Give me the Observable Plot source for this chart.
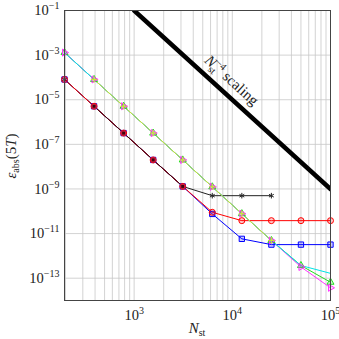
<!DOCTYPE html>
<html><head><meta charset="utf-8">
<script src="https://cdn.jsdelivr.net/npm/d3@7"></script>
<script src="https://cdn.jsdelivr.net/npm/@observablehq/plot@0.6"></script>
<style>body{margin:0;background:#fff}#c{width:339px;height:339px}</style>
</head><body><div id="c"></div>
<script>
// ---- data ----
const Nst = [195.3125, 390.625, 781.25, 1562.5, 3125, 6250, 12500, 25000, 50000, 100000];
const cyanErr    = [1.3e-3, 8.1e-5, 5.1e-6, 3.2e-7, 2.0e-8, 1.25e-9, 7.8e-11, 4.9e-12, 3.7e-13, 1.65e-13];
const greenErr   = [1.3e-3, 8.1e-5, 5.1e-6, 3.2e-7, 2.0e-8, 1.25e-9, 7.8e-11, 4.9e-12, 3.7e-13, 6.6e-14];
const magentaErr = [1.3e-3, 8.1e-5, 5.1e-6, 3.2e-7, 2.0e-8, 1.25e-9, 7.8e-11, 4.9e-12, 3.2e-13, 3.7e-14];
const yellowErr  = [null, 8.1e-5, 5.1e-6, 3.2e-7, 2.0e-8, 1.25e-9, 7.8e-11, 4.9e-12, null, null];
const redErr     = [8.1e-5, 5.1e-6, 3.2e-7, 2.0e-8, 1.3e-9, 9.0e-11, 3.8e-11, 3.8e-11, 3.8e-11, 3.8e-11];
const blueErr    = [8.1e-5, 5.1e-6, 3.2e-7, 2.0e-8, 1.3e-9, 7.6e-11, 5.8e-12, 3.2e-12, 3.2e-12, 3.2e-12];
const blackErr   = [8.1e-5, 5.1e-6, 3.2e-7, 2.0e-8, 1.3e-9, 5.0e-10, 5.0e-10, 5.0e-10, null, null];
const maroonErr  = [null, 5.1e-6, 3.2e-7, 2.0e-8, 1.3e-9, null, null, null, null, null];
const scalingN   = [1000, 100000];
const scalingErr = [0.1, 1e-9];
const xTicks = [1e3, 1e4, 1e5];
const yTicks = [1e-1, 1e-3, 1e-5, 1e-7, 1e-9, 1e-11, 1e-13];
const xGrid = [200,300,400,500,600,700,800,900,1000,2000,3000,4000,5000,6000,7000,8000,9000,10000,20000,30000,40000,50000,60000,70000,80000,90000,100000];

const series = [
  {name:"blue", values: blueErr, color:"#0000ff", symbol:"square", rotate:0, r:3},
  {name:"black", values: blackErr, color:"#222222", symbol:"asterisk", rotate:0, r:2.6},
  {name:"red", values: redErr, color:"#ff0000", symbol:"circle", rotate:0, r:3},
  {name:"maroon", values: maroonErr, color:"#3a0510", symbol:"square", rotate:0, r:2.2},
  {name:"green", values: greenErr, color:"#22dd22", symbol:"triangle", rotate:0, r:2.6},
  {name:"magenta", values: magentaErr, color:"#ff33ff", symbol:"triangle", rotate:90, r:2.6},
  {name:"cyan", values: cyanErr, color:"#00e5e5", symbol:"circle", rotate:0, r:0},
  {name:"yellow", values: yellowErr, color:"#c8e632", symbol:"plus", rotate:0, r:2.2}
];
const rows = series.flatMap(s => Nst.map((n,i) => ({s:s.name, n, e:s.values[i]}))
  .filter(d => d.e != null));
const scaling = scalingN.map((n,i) => ({n, e: scalingErr[i]}));
const fmt = v => "10^" + Math.round(Math.log10(v));

const lineMarks = series.map(s => Plot.line(rows.filter(d => d.s === s.name), {x:"n", y:"e", stroke:s.color, strokeWidth: 1}));
const dotMarks = series.filter(s => s.r > 0).map(s => Plot.dot(rows.filter(d => d.s === s.name), {
  x:"n", y:"e", stroke: s.name==="maroon" ? "#d02040" : s.color, fill:s.color,
  fillOpacity: s.name==="maroon"?1:0.2, symbol:s.symbol, r:s.r, rotate:s.rotate, strokeWidth:1}));

const plot = Plot.plot({
  width: 339, height: 339,
  marginLeft: 64, marginRight: 9, marginTop: 10, marginBottom: 39,
  style: {fontFamily: "'Liberation Serif', 'DejaVu Serif', serif", fontSize: "14.5px", background: "#fff", color: "#222"},
  x: {type: "log", domain: [195.3125, 100000]},
  y: {type: "log", domain: [1e-14, 1e-1]},
  marks: [
    Plot.gridX(xGrid, {stroke: "#c8c8c8", strokeOpacity: 1, strokeWidth: 0.8}),
    Plot.gridY(yTicks, {stroke: "#c8c8c8", strokeOpacity: 1, strokeWidth: 0.8}),
    Plot.line(scaling, {x: "n", y: "e", stroke: "#000", strokeWidth: 4.5, clip: true}),
    ...lineMarks,
    ...dotMarks,
    Plot.axisX(xTicks, {tickFormat: fmt, tickSize: 0, tickPadding: 9, label: null}),
    Plot.axisY(yTicks, {tickFormat: fmt, tickSize: 0, tickPadding: 5, label: null}),
    Plot.frame({stroke: "#444", strokeWidth: 1})
  ]
});
document.getElementById("c").appendChild(plot);

const svg = d3.select(plot);
// superscript tick labels
svg.selectAll("text").each(function() {
  const t = this.textContent;
  const m = /^10\^(-?\d+)$/.exec(t);
  if (!m) return;
  const el = d3.select(this);
  el.attr("font-size", "14.5px");
  el.text(null);
  el.append("tspan").text("10");
  el.append("tspan").attr("dy", "-6").attr("font-size", "10px").text(m[1].replace("-", "−"));
});

const sx = plot.scale("x"), sy = plot.scale("y");
// axis titles
const yt = svg.append("text").attr("transform", `translate(16,156) rotate(-90)`)
  .attr("text-anchor", "middle").attr("font-size", "15px").attr("fill", "#222");
yt.append("tspan").attr("font-style", "italic").text("ε");
yt.append("tspan").attr("font-size", "10px").attr("dy", "3").text("abs");
yt.append("tspan").attr("dy", "-3").text("(5");
yt.append("tspan").attr("font-style", "italic").text("T");
yt.append("tspan").text(")");

const xt = svg.append("text").attr("x", 197).attr("y", 333)
  .attr("text-anchor", "middle").attr("font-size", "15px").attr("fill", "#222");
xt.append("tspan").attr("font-style", "italic").text("N");
xt.append("tspan").attr("font-size", "10px").attr("dy", "3").text("st");

// annotation along the scaling line
const an = 8000, ae = 0.1 * Math.pow(an/1000, -4);
const px = sx.apply(an), py = sy.apply(ae);
const ang = Math.atan2(sy.apply(scalingErr[1]) - sy.apply(scalingErr[0]), sx.apply(scalingN[1]) - sx.apply(scalingN[0])) * 180 / Math.PI;
const at = svg.append("text").attr("transform", `translate(${px},${py}) rotate(${ang})`)
  .attr("text-anchor", "middle").attr("y", -9).attr("font-size", "15px").attr("fill", "#222");
at.append("tspan").attr("font-style", "italic").text("N");
at.append("tspan").attr("font-size", "10px").attr("dy", "-6").text("−4");
at.append("tspan").attr("font-size", "10px").attr("dx", "-12").attr("dy", "10").text("st");
at.append("tspan").attr("dy", "-4").attr("dx", "9").text("scaling");
</script></body></html>
